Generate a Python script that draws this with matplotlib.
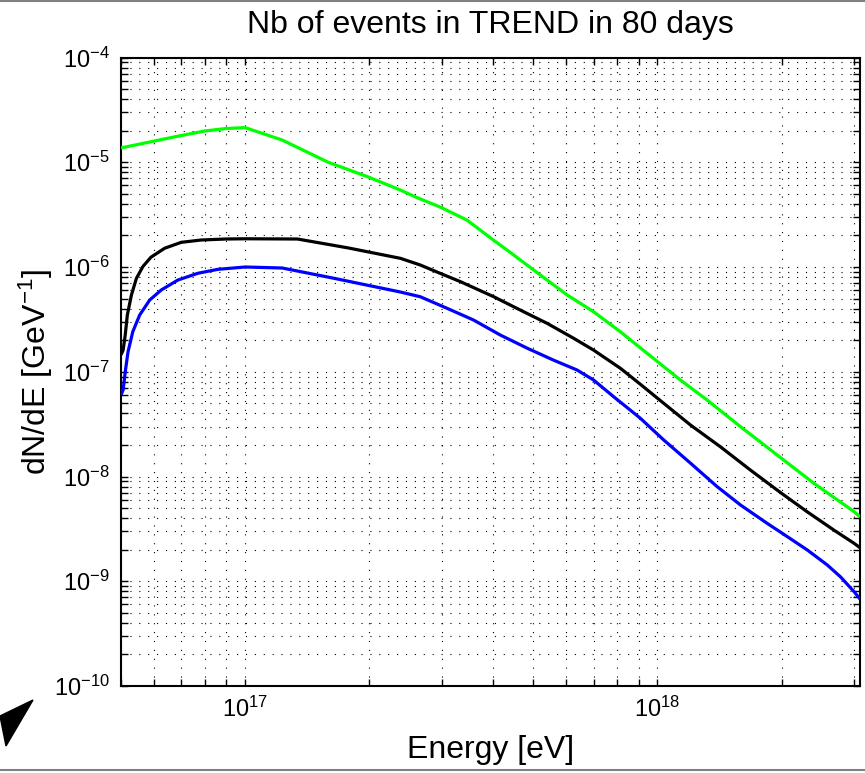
import matplotlib
matplotlib.use("Agg")
import matplotlib.pyplot as plt
from matplotlib.ticker import LogLocator, LogFormatterSciNotation, NullFormatter, FixedLocator
from matplotlib.patches import Polygon
from matplotlib.lines import Line2D

plt.rcParams['font.family'] = ['Liberation Sans', 'DejaVu Sans']
plt.rcParams['mathtext.fontset'] = 'custom'
plt.rcParams['mathtext.rm'] = 'Liberation Sans'
plt.rcParams['mathtext.it'] = 'Liberation Sans:italic'
plt.rcParams['mathtext.bf'] = 'Liberation Sans:bold'

# ---- data ----
green_E = [5.0e16, 6.9e16, 8.0e16, 9.0e16, 1.0e17, 1.23e17, 1.59e17, 1.99e17, 2.38e17,
           2.59e17, 2.97e17, 3.45e17, 4.0e17, 4.32e17, 5.01e17, 6.04e17, 7.0e17, 8.13e17,
           9.44e17, 1.137e18, 1.32e18, 1.59e18, 2.0e18, 2.396e18, 3.0e18, 3.1e18]
green_N = [1.37e-5, 1.78e-5, 1.99e-5, 2.1e-5, 2.14e-5, 1.63e-5, 1.00e-5, 7.23e-6, 5.43e-6,
           4.66e-6, 3.74e-6, 2.81e-6, 1.81e-6, 1.45e-6, 9.36e-7, 5.41e-7, 3.74e-7, 2.41e-7,
           1.50e-7, 8.34e-8, 5.37e-8, 2.99e-8, 1.49e-8, 8.61e-9, 4.61e-9, 4.13e-9]

black_E = [5.0e16, 5.06e16, 5.12e16, 5.18e16, 5.30e16, 5.45e16, 5.65e16, 5.91e16, 6.38e16,
           7.0e16, 7.82e16, 8.99e16, 1.0e17, 1.34e17, 1.78e17, 2.38e17, 2.66e17, 2.97e17,
           3.33e17, 4.01e17, 4.65e17, 5.40e17, 6.26e17, 7.0e17, 8.13e17, 9.09e17, 1.017e18,
           1.203e18, 1.422e18, 1.682e18, 2.0e18, 2.309e18, 2.679e18, 3.0e18, 3.1e18]
black_N = [1.45e-7, 1.61e-7, 2.25e-7, 3.48e-7, 5.41e-7, 7.80e-7, 1.01e-6, 1.24e-6, 1.51e-6,
           1.72e-6, 1.81e-6, 1.85e-6, 1.86e-6, 1.85e-6, 1.52e-6, 1.21e-6, 1.045e-6, 8.71e-7,
           7.24e-7, 5.20e-7, 3.88e-7, 2.90e-7, 2.09e-7, 1.61e-7, 1.08e-7, 7.6e-8, 5.3e-8,
           3.10e-8, 1.92e-8, 1.15e-8, 6.91e-9, 4.6e-9, 3.08e-9, 2.30e-9, 2.09e-9]

blue_E = [5.0e16, 5.06e16, 5.12e16, 5.20e16, 5.34e16, 5.55e16, 5.87e16, 6.26e16, 6.87e16,
          7.68e16, 8.59e16, 1.0e17, 1.23e17, 1.63e17, 2.38e17, 2.66e17, 3.09e17, 3.58e17,
          4.16e17, 4.83e17, 5.60e17, 6.38e17, 7.0e17, 7.83e17, 9.09e17, 1.036e18, 1.203e18,
          1.396e18, 1.59e18, 1.846e18, 2.0e18, 2.309e18, 2.582e18, 2.781e18, 3.0e18, 3.1e18]
blue_N = [6.0e-8, 6.7e-8, 1.0e-7, 1.55e-7, 2.41e-7, 3.48e-7, 4.84e-7, 6.03e-7, 7.51e-7,
          8.71e-7, 9.50e-7, 1.0e-6, 9.78e-7, 7.85e-7, 5.77e-7, 5.20e-7, 4.03e-7, 3.12e-7,
          2.24e-7, 1.68e-7, 1.29e-7, 1.04e-7, 8.34e-8, 5.78e-8, 3.60e-8, 2.23e-8, 1.34e-8,
          8.00e-9, 5.35e-9, 3.57e-9, 2.90e-9, 1.99e-9, 1.43e-9, 1.10e-9, 7.94e-10, 6.76e-10]

x_major = [1e17, 1e18]
y_major = [1e-10, 1e-9, 1e-8, 1e-7, 1e-6, 1e-5, 1e-4]

title = "Nb of events in TREND in 80 days"
xlabel = "Energy [eV]"
ylabel = "dN/dE [GeV$^{-1}$]"
xlim = (5.0e16, 3.1e18)
ylim = (1e-10, 1e-4)

W, H = 865, 773
fig = plt.figure(figsize=(W / 100, H / 100), dpi=100)
ax = fig.add_axes([121 / W, (H - 686) / H, (860 - 121) / W, (686 - 57.5) / H])

for E, N, c in ((green_E, green_N, '#00ff00'), (black_E, black_N, 'black'),
                (blue_E, blue_N, '#0000ff')):
    ax.plot(E, N, color=c, lw=2.3, solid_capstyle='butt', solid_joinstyle='round', zorder=3)

ax.set_xscale('log')
ax.set_yscale('log')
ax.set_xlim(*xlim)
ax.set_ylim(*ylim)

ax.xaxis.set_major_locator(FixedLocator(x_major))
ax.yaxis.set_major_locator(FixedLocator(y_major))
ax.xaxis.set_minor_locator(LogLocator(base=10, subs=range(2, 10), numticks=50))
ax.yaxis.set_minor_locator(LogLocator(base=10, subs=range(2, 10), numticks=50))
ax.xaxis.set_major_formatter(LogFormatterSciNotation())
ax.yaxis.set_major_formatter(LogFormatterSciNotation())
ax.xaxis.set_minor_formatter(NullFormatter())
ax.yaxis.set_minor_formatter(NullFormatter())

ax.tick_params(which='both', direction='in', top=True, right=True, length=5, width=1.0,
               colors='black', labelsize=17)
ax.tick_params(axis='x', which='major', pad=8)
ax.tick_params(axis='y', which='major', pad=8)

ax.grid(True, which='both', color='black', linestyle=(0, (1, 7)), linewidth=0.8)
for s in ax.spines.values():
    s.set_linewidth(1.5)
    s.set_color('black')

ax.set_title(title, fontsize=23, pad=18)
ax.set_xlabel(xlabel, fontsize=23)
ax.set_ylabel(ylabel, fontsize=23)
ax.xaxis.set_label_coords(0.5, -(735 - 686) / (686 - 57.5))
ax.yaxis.set_label_coords(-(121 - 55) / (860 - 121), 0.5)

# window decorations from the screenshot
fig.add_artist(Line2D([0, 1], [1 - 1 / H, 1 - 1 / H], transform=fig.transFigure,
                      color='#808080', lw=1.5))
fig.add_artist(Line2D([0, 1], [3 / H, 3 / H], transform=fig.transFigure,
                      color='#808080', lw=1.5))
tri = Polygon([[33 / W, 1 - 700 / H], [0 / W, 1 - 716 / H], [6 / W, 1 - 746 / H]],
              closed=True, transform=fig.transFigure, color='black')
fig.add_artist(tri)

fig.savefig('out.png', dpi=100)
